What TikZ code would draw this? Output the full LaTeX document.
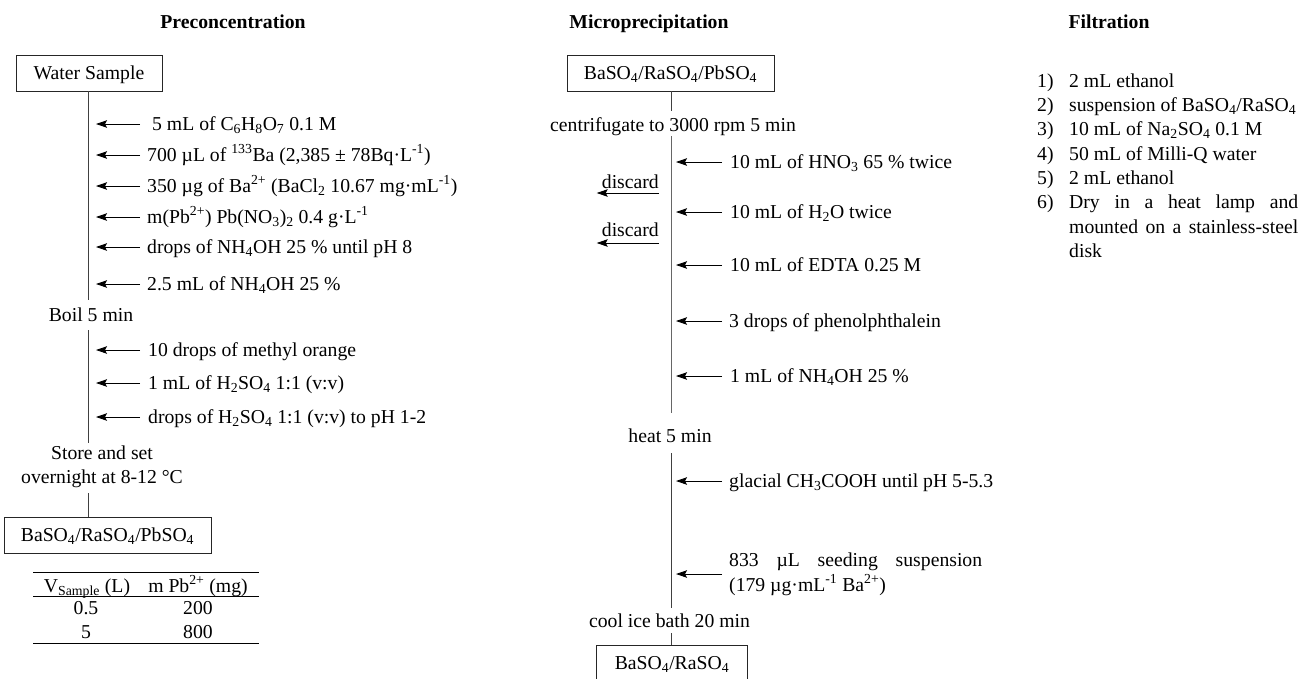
\documentclass[tikz,border=0pt]{standalone}
\usepackage{fontspec}
\setmainfont{Liberation Serif}
\usetikzlibrary{arrows.meta,calc}
\begin{document}
\begin{tikzpicture}[x=1pt,y=-1pt, font=\fontsize{19.7}{24}\selectfont,
 txt/.style={inner sep=0pt, text height=13pt, text depth=0pt, anchor=west},
 ctr/.style={inner sep=0pt, text height=13pt, text depth=0pt, anchor=center},
 ttl/.style={ctr, font=\fontsize{19.7}{24}\selectfont\bfseries},
 boxn/.style={draw=black!85, line width=0.9pt, inner sep=0pt, minimum height=36pt, text height=13pt, text depth=0pt},
 flow/.style={draw=black!75, line width=1pt},
 arr/.style={draw=black, line width=0.9pt, -{Stealth[length=11pt,width=7.5pt,inset=2pt]}},
 tabrule/.style={draw=black, line width=0.9pt}]
\useasboundingbox (0,0) rectangle (1303,678);
\fill[white] (0,0) rectangle (1303,678);

% titles
\node[ttl] (t1) at (233,22) {Preconcentration};
\node[ttl] (t2) at (649,22) {Microprecipitation};
\node[ttl] (t3) at (1109,22) {Filtration};

% ---------------- left column
\node[boxn, minimum width=146pt] (ws) at (89,73) {Water Sample};
\node[boxn, minimum width=207pt] (pb1) at (107.5,535) {BaSO\textsubscript{4}/RaSO\textsubscript{4}/PbSO\textsubscript{4}};
\node[ctr] (boil) at (91,315) {Boil 5 min};
\node[align=center, inner sep=0pt] (store) at (102,467) {Store and set\\overnight at 8-12 °C};

\coordinate (La) at (88,300);
\coordinate (Lb) at (88,330);
\coordinate (Lc) at (88,443);
\coordinate (Ld) at (88,493);
\draw[flow] (La |- ws.south) -- (La);
\draw[flow] (Lb) -- (Lc);
\draw[flow] (Ld) -- (Ld |- pb1.north);

\coordinate (Ls) at (140,0);
\coordinate (Lt) at (96,0);
\node[txt] (l1) at (152,124) {5 mL of C\textsubscript{6}H\textsubscript{8}O\textsubscript{7} 0.1 M};
\node[txt] (l2) at (147,155) {700 µL of \textsuperscript{133}Ba (2,385 ± 78Bq·L\textsuperscript{-1})};
\node[txt] (l3) at (147,186) {350 µg of Ba\textsuperscript{2+} (BaCl\textsubscript{2} 10.67 mg·mL\textsuperscript{-1})};
\node[txt] (l4) at (147,217) {m(Pb\textsuperscript{2+}) Pb(NO\textsubscript{3})\textsubscript{2} 0.4 g·L\textsuperscript{-1}};
\node[txt] (l5) at (147,247) {drops of NH\textsubscript{4}OH 25 \% until pH 8};
\node[txt] (l6) at (147,284) {2.5 mL of NH\textsubscript{4}OH 25 \%};
\node[txt] (l7) at (148,350) {10 drops of methyl orange};
\node[txt] (l8) at (148,383) {1 mL of H\textsubscript{2}SO\textsubscript{4} 1:1 (v:v)};
\node[txt] (l9) at (148,417) {drops of H\textsubscript{2}SO\textsubscript{4} 1:1 (v:v) to pH 1-2};
\foreach \n in {l1,l2,l3,l4,l5,l6,l7,l8,l9}
  \draw[arr] (\n.west -| Ls) -- (\n.west -| Lt);

% table
\draw[tabrule] (33,572) -- (259,572);
\draw[tabrule] (33,596) -- (259,596);
\draw[tabrule] (33,643) -- (259,643);
\node[ctr] (h1) at (87,586) {V\textsubscript{Sample} (L)};
\node[ctr] (h2) at (198,586) {m Pb\textsuperscript{2+} (mg)};
\node[ctr] (c1) at (86,608) {0.5};
\node[ctr] (c2) at (198,608) {200};
\node[ctr] (c3) at (86,632) {5};
\node[ctr] (c4) at (198,632) {800};

% ---------------- middle column
\node[boxn, minimum width=207pt] (pb2) at (670.5,73) {BaSO\textsubscript{4}/RaSO\textsubscript{4}/PbSO\textsubscript{4}};
\node[boxn, minimum width=151pt] (rb) at (672,663) {BaSO\textsubscript{4}/RaSO\textsubscript{4}};
\node[ctr] (cen) at (673,125) {centrifugate to 3000 rpm 5 min};
\node[ctr] (heat) at (670,436) {heat 5 min};
\node[ctr] (cool) at (669.5,621) {cool ice bath 20 min};

\coordinate (Ma) at (671,111);
\coordinate (Mb) at (671,136);
\coordinate (Mc) at (671,413);
\coordinate (Md) at (671,453);
\coordinate (Me) at (671,608);
\coordinate (Mf) at (671,633);
\draw[flow] (Ma |- pb2.south) -- (Ma);
\draw[flow, draw=black!60] (Mb) -- (Mc);
\draw[flow] (Md) -- (Me);
\draw[flow] (Mf) -- (Mf |- rb.north);

\coordinate (Ms) at (722,0);
\coordinate (Mt) at (676,0);
\node[txt] (m1) at (730,162) {10 mL of HNO\textsubscript{3} 65 \% twice};
\node[txt] (m2) at (730,212) {10 mL of H\textsubscript{2}O twice};
\node[txt] (m3) at (730,265) {10 mL of EDTA 0.25 M};
\node[txt] (m4) at (729,321) {3 drops of phenolphthalein};
\node[txt] (m5) at (730,376) {1 mL of NH\textsubscript{4}OH 25 \%};
\node[txt] (m6) at (729,481) {glacial CH\textsubscript{3}COOH until pH 5-5.3};
\node[txt] (s1) at (729,560) {\makebox[253pt][s]{833 µL seeding suspension}};
\node[txt] (s2) at (729,585) {(179 µg·mL\textsuperscript{-1} Ba\textsuperscript{2+})};
\coordinate (smid) at (729,574);
\foreach \n in {m1,m2,m3,m4,m5,m6}
  \draw[arr] (\n.west -| Ms) -- (\n.west -| Mt);
\draw[arr] (smid -| Ms) -- (smid -| Mt);

\node[inner sep=0pt, anchor=base east] (d1) at (659,188) {discard};
\node[inner sep=0pt, anchor=base east] (d2) at (659,236) {discard};
\draw[arr] ([yshift=-5pt]d1.base east) -- ([xshift=-5pt,yshift=-5pt]d1.base west);
\draw[arr] ([yshift=-7pt]d2.base east) -- ([xshift=-5pt,yshift=-7pt]d2.base west);

% ---------------- right column
\foreach \k/\y in {1/81,2/105,3/129,4/154,5/178,6/202}
  \node[txt] (n\k) at (1037,\y) {\k)};
\node[txt] (r1) at (1069,81) {2 mL ethanol};
\node[txt] (r2) at (1069,105) {suspension of BaSO\textsubscript{4}/RaSO\textsubscript{4}};
\node[txt] (r3) at (1069,129) {10 mL of Na\textsubscript{2}SO\textsubscript{4} 0.1 M};
\node[txt] (r4) at (1069,154) {50 mL of Milli-Q water};
\node[txt] (r5) at (1069,178) {2 mL ethanol};
\node[txt] (r6) at (1069,202) {\makebox[229pt][s]{Dry in a heat lamp and}};
\node[txt] (r7) at (1069,227) {\makebox[229pt][s]{mounted on a stainless-steel}};
\node[txt] (r8) at (1069,251) {disk};
\end{tikzpicture}
\end{document}
